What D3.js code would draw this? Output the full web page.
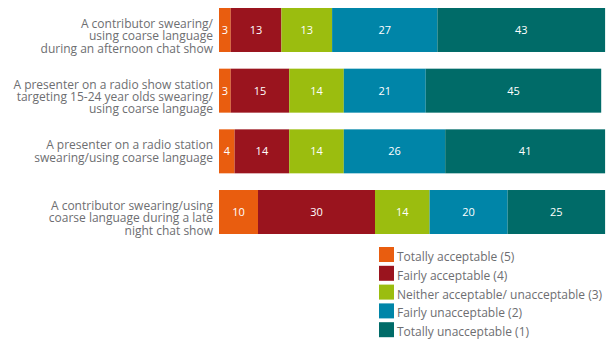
<!DOCTYPE html>
<html>
<head>
<meta charset="utf-8">
<script src="https://cdn.jsdelivr.net/npm/d3@7"></script>
<style>
  body { margin: 0; background: #fff; }
  svg { display: block; font-family: "Open Sans", sans-serif; }
</style>
</head>
<body>
<div id="chart-area"></div>
<script>
// statements (label lines) and answers, top to bottom
const statements = [
    ["A contributor swearing/", "using coarse language", "during an afternoon chat show"],
    ["A presenter on a radio show station", "targeting 15-24 year olds swearing/", "using coarse language"],
    ["A presenter on a radio station", "swearing/using coarse language"],
    ["A contributor swearing/using", "coarse language during a late", "night chat show"]
];
const categories = [
    "Totally acceptable (5)",
    "Fairly acceptable (4)",
    "Neither acceptable/ unacceptable (3)",
    "Fairly unacceptable (2)",
    "Totally unacceptable (1)"
];
const colors = ["#e95d0f", "#9a141e", "#9bbd0f", "#0085a8", "#006b68"];

const totallyAcceptable   = [3, 3, 4, 10];
const fairlyAcceptable    = [13, 15, 14, 30];
const neither             = [13, 14, 14, 14];
const fairlyUnacceptable  = [27, 21, 26, 20];
const totallyUnacceptable = [43, 45, 41, 25];

const series = [totallyAcceptable, fairlyAcceptable, neither, fairlyUnacceptable, totallyUnacceptable];

const width = 606, height = 341;

const svg = d3.select("#chart-area")
    .append("svg")
    .attr("width", width)
    .attr("height", height);

const x = d3.scaleLinear().domain([0, 100]).range([219, 609]);
const y = d3.scaleBand()
    .domain(d3.range(statements.length))
    .range([8, 234])
    .paddingInner(0.275)
    .paddingOuter(0);

// stack the segments row by row
const rows = statements.map((s, i) => {
    let acc = 0;
    return series.map((vals, k) => {
        const seg = { row: i, k: k, v: vals[i], x0: acc, x1: acc + vals[i] };
        acc += vals[i];
        return seg;
    });
});
const segs = rows.flat();

svg.selectAll("rect.seg")
    .data(segs)
    .enter()
    .append("rect")
    .attr("class", "seg")
    .attr("x", d => x(d.x0))
    .attr("y", d => y(d.row))
    .attr("width", d => x(d.x1) - x(d.x0))
    .attr("height", y.bandwidth())
    .attr("fill", d => colors[d.k]);

svg.selectAll("text.val")
    .data(segs)
    .enter()
    .append("text")
    .attr("class", "val")
    .attr("x", d => (x(d.x0) + x(d.x1)) / 2)
    .attr("y", d => y(d.row) + y.bandwidth() / 2 + 4)
    .attr("text-anchor", "middle")
    .attr("font-size", "11px")
    .attr("fill", "#fff")
    .text(d => d.v);

// category labels, top-aligned with the bar
const lab = svg.selectAll("text.lab")
    .data(statements)
    .enter()
    .append("text")
    .attr("class", "lab")
    .attr("text-anchor", "end")
    .attr("font-size", "12px")
    .attr("fill", "#6d6e71");

lab.selectAll("tspan")
    .data((d, i) => d.map((line, j) => ({ line, i, j })))
    .enter()
    .append("tspan")
    .attr("x", 213)
    .attr("y", d => y(d.i) + 20 + d.j * 12.3)
    .text(d => d.line);

// legend
const leg = svg.selectAll("g.leg")
    .data(categories)
    .enter()
    .append("g")
    .attr("class", "leg")
    .attr("transform", (d, i) => `translate(379, ${247 + i * 18.8})`);

leg.append("rect")
    .attr("width", 15)
    .attr("height", 15)
    .attr("fill", (d, i) => colors[i]);

leg.append("text")
    .attr("x", 18)
    .attr("y", 14)
    .attr("font-size", "12px")
    .attr("fill", "#6d6e71")
    .text(d => d);
</script>
</body>
</html>
